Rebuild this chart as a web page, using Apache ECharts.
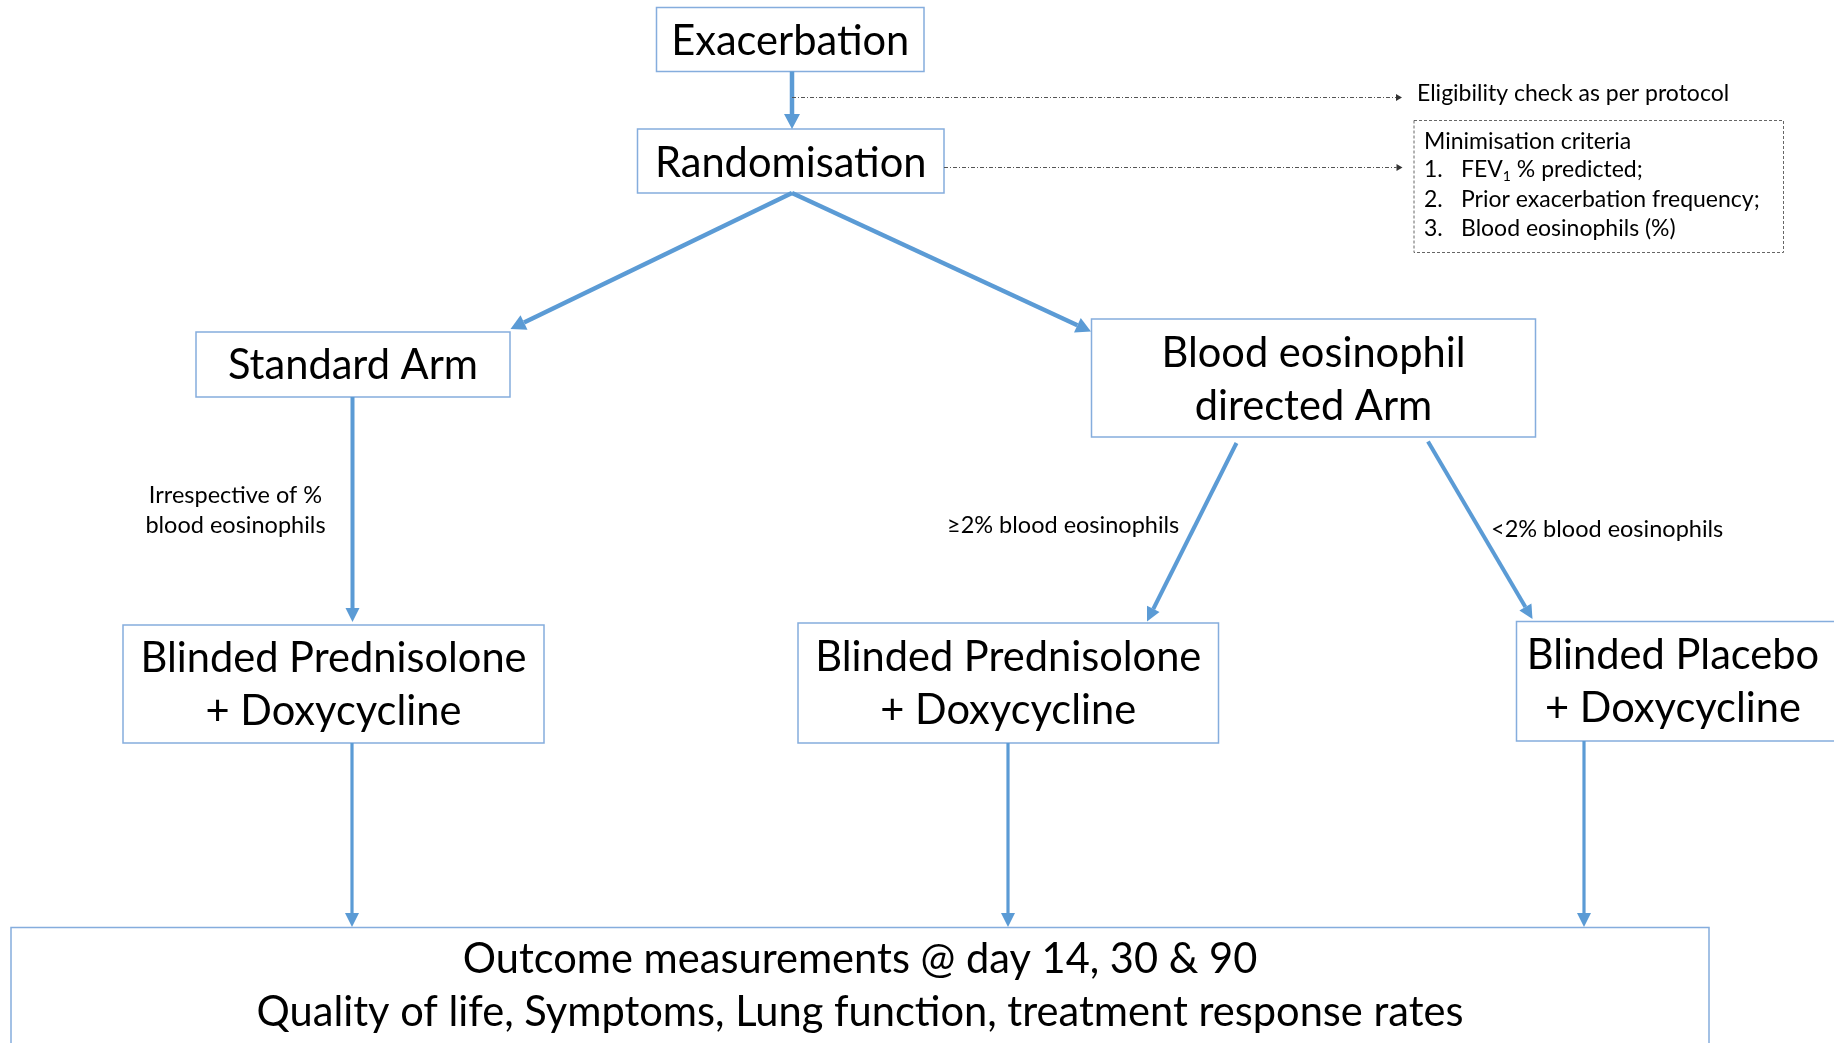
<!DOCTYPE html>
<html><head><meta charset="utf-8">
<script src="https://cdn.jsdelivr.net/npm/echarts@6/dist/echarts.min.js"></script>
<style>html,body{margin:0;padding:0;background:#fff}#c{width:1834px;height:1043px}</style>
</head><body><div id="c"></div><script>
// ---------- content (text of the flow chart) ----------
const boxTexts = [
  'Exacerbation',
  'Randomisation',
  'Standard Arm',
  'Blood eosinophil\ndirected Arm',
  'Blinded Prednisolone\n+ Doxycycline',
  'Blinded Prednisolone\n+ Doxycycline',
  'Blinded Placebo\n+ Doxycycline',
  'Outcome measurements @ day 14, 30 & 90\nQuality of life, Symptoms, Lung function, treatment response rates'
];
const branchLabels = [
  'Irrespective of %\nblood eosinophils',
  '\u22652% blood eosinophils',
  '<2% blood eosinophils'
];
const eligibilityNote = 'Eligibility check as per protocol';
const criteriaTitle = 'Minimisation criteria';
const criteriaNumbers = ['1.', '2.', '3.'];
const criteriaItems = ['{t|FEV}{s|1}{t| % predicted;}', 'Prior exacerbation frequency;', 'Blood eosinophils (%)'];
// links: [fromBox, toBox]
const flowLinks = [[0,1],[1,2],[1,3],[2,4],[3,5],[3,6],[4,7],[5,7],[6,7]];
const noteLinks = [['Exacerbation','Eligibility'],['Randomisation','Minimisation']];

// ---------- layout (diagram units = px of the 1834x1043 canvas) ----------
const W = 1834, H = 1043;
const boxLayout = [ // x0,y0,x1,y1,textCx
  [656.5, 7.5, 924, 71.5],
  [637.5, 129, 944, 193],
  [196, 332, 510, 397],
  [1091.5, 319, 1535.5, 437],
  [123, 625, 544, 743],
  [798, 623, 1218.5, 743],
  [1516.5, 621.5, 1850, 741, 1673],
  [11, 927.5, 1709, 1080, 860]
];
const boxTextY = [42, 164, 366, 380, 685.5, 684.5, 682, 986];
const flowArrowLayout = [ // x1,y1,x2,y2,lineWidth
  [792, 71.5, 792, 129, 4.5],
  [792, 193, 510.5, 329, 4.5],
  [792, 193, 1091, 331.5, 4.5],
  [352.5, 397, 352.5, 622, 4],
  [1236.5, 443, 1147, 621.5, 4],
  [1428, 441.5, 1532.5, 619, 4],
  [352, 743, 352, 927, 3.2],
  [1008, 743, 1008, 927, 3.2],
  [1584, 741, 1584, 927, 3.2]
];
const noteArrowLayout = [
  [792, 97.5, 1402, 97.5],
  [944, 167.5, 1402.5, 167.5]
];
const criteriaBox = [1414, 120.5, 1783.5, 252.5];
const branchLabelPos = [[235.5, 510], [947, 525], [1491, 529]];

const BLUE = '#5B9BD5', BORDER = '#85ADDD', FONT = 'Lato';
const BIG = 41.6, SMALL = 23.5, NOTE = 23;

const chart = echarts.init(document.getElementById('c'), null, {renderer: 'canvas'});

function arrowHead(p1, p2, L, w) {
  const dx = p2[0]-p1[0], dy = p2[1]-p1[1], len = Math.hypot(dx, dy);
  const ux = dx/len, uy = dy/len, nx = -uy, ny = ux;
  const bx = p2[0]-ux*L, by = p2[1]-uy*L;
  return {base: [bx, by], pts: [p2, [bx+nx*w, by+ny*w], [bx-nx*w, by-ny*w]]};
}

const option = {
  animation: false,
  backgroundColor: '#fff',
  grid: {left: 0, right: 0, top: 0, bottom: 0},
  xAxis: {type: 'value', min: 0, max: W, show: false},
  yAxis: {type: 'value', min: 0, max: H, inverse: true, show: false},
  series: [
    { // boxes
      type: 'custom', clip: false, silent: true,
      data: boxTexts.map((t, i) => [i]),
      renderItem: function (params, api) {
        const i = params.dataIndex, b = boxLayout[i];
        const p0 = api.coord([b[0], b[1]]), p1 = api.coord([b[2], b[3]]);
        const cx = api.coord([b[4] != null ? b[4] : (b[0]+b[2])/2, boxTextY[i]]);
        return {type: 'group', children: [
          {type: 'rect', shape: {x: p0[0], y: p0[1], width: p1[0]-p0[0], height: p1[1]-p0[1]},
           style: {fill: 'rgba(0,0,0,0)', stroke: BORDER, lineWidth: 1.5}},
          {type: 'text', style: {text: boxTexts[i], x: cx[0], y: cx[1], align: 'center', verticalAlign: 'middle',
            font: BIG + 'px ' + FONT, fill: '#000', lineHeight: 53}}
        ]};
      }
    },
    { // flow arrows
      type: 'custom', clip: false, silent: true,
      data: flowLinks.map((l, i) => [i]),
      renderItem: function (params, api) {
        const a = flowArrowLayout[params.dataIndex];
        const p1 = api.coord([a[0], a[1]]), p2 = api.coord([a[2], a[3]]);
        const h = arrowHead(p1, p2, a[4] > 4 ? 15 : 14, a[4] > 4 ? 8 : 7);
        return {type: 'group', children: [
          {type: 'line', shape: {x1: p1[0], y1: p1[1], x2: h.base[0], y2: h.base[1]},
           style: {stroke: BLUE, lineWidth: a[4]}},
          {type: 'polygon', shape: {points: h.pts}, style: {fill: BLUE}}
        ]};
      }
    },
    { // dotted note arrows
      type: 'custom', clip: false, silent: true,
      data: noteLinks.map((l, i) => [i]),
      renderItem: function (params, api) {
        const a = noteArrowLayout[params.dataIndex];
        const p1 = api.coord([a[0], a[1]]), p2 = api.coord([a[2], a[3]]);
        const h = arrowHead(p1, p2, 6, 3.5);
        return {type: 'group', children: [
          {type: 'line', shape: {x1: p1[0], y1: p1[1], x2: h.base[0], y2: h.base[1]},
           style: {stroke: '#555', lineWidth: 1.2, lineDash: [4, 2, 1, 2]}},
          {type: 'polygon', shape: {points: h.pts}, style: {fill: '#333'}}
        ]};
      }
    },
    { // branch labels
      type: 'custom', clip: false, silent: true,
      data: branchLabels.map((t, i) => [i]),
      renderItem: function (params, api) {
        const i = params.dataIndex, p = api.coord(branchLabelPos[i]);
        return {type: 'text', style: {text: branchLabels[i], x: p[0], y: p[1],
          align: i === 0 ? 'center' : 'left', verticalAlign: 'middle',
          font: SMALL + 'px ' + FONT, fill: '#000', lineHeight: 30}};
      }
    },
    { // notes on the right
      type: 'custom', clip: false, silent: true,
      data: [[0]],
      renderItem: function (params, api) {
        const c0 = api.coord([criteriaBox[0], criteriaBox[1]]), c1 = api.coord([criteriaBox[2], criteriaBox[3]]);
        const el = [
          {type: 'rect', shape: {x: c0[0], y: c0[1], width: c1[0]-c0[0], height: c1[1]-c0[1]},
           style: {fill: 'rgba(0,0,0,0)', stroke: '#666', lineWidth: 1, lineDash: [3, 2]}}
        ];
        const e = api.coord([1417, 93.5]);
        el.push({type: 'text', style: {text: eligibilityNote, x: e[0], y: e[1], verticalAlign: 'middle',
          font: NOTE + 'px ' + FONT, fill: '#000'}});
        const t = api.coord([1424, 141.5]);
        el.push({type: 'text', style: {text: criteriaTitle, x: t[0], y: t[1], verticalAlign: 'middle',
          font: NOTE + 'px ' + FONT, fill: '#000'}});
        const ys = [170, 199.5, 228.5];
        criteriaItems.forEach((s, k) => {
          const n = api.coord([1424, ys[k]]), q = api.coord([1461, ys[k]]);
          el.push({type: 'text', style: {text: criteriaNumbers[k], x: n[0], y: n[1], verticalAlign: 'middle',
            font: NOTE + 'px ' + FONT, fill: '#000'}});
          el.push({type: 'text', style: {text: s, x: q[0], y: q[1], verticalAlign: 'middle',
            font: NOTE + 'px ' + FONT, fill: '#000',
            rich: {t: {fontSize: NOTE, fontFamily: FONT, fill: '#000'},
                   s: {fontSize: 14, fontFamily: FONT, fill: '#000', padding: [12, 0, 0, 0]}}}});
        });
        return {type: 'group', children: el};
      }
    }
  ]
};
chart.setOption(option);
</script></body></html>
